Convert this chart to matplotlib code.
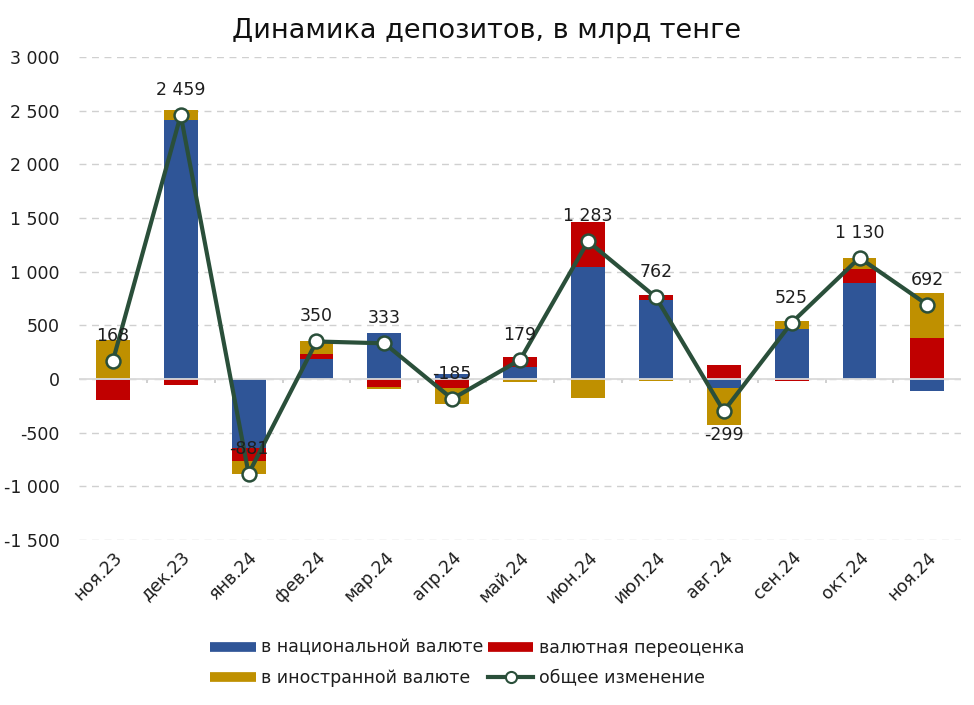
import numpy as np
import matplotlib
matplotlib.use('Agg')
import matplotlib.pyplot as plt
from matplotlib.lines import Line2D
from matplotlib.ticker import FuncFormatter

# Data (млрд тенге)
months = ['ноя.23', 'дек.23', 'янв.24', 'фев.24', 'мар.24', 'апр.24', 'май.24',
          'июн.24', 'июл.24', 'авг.24', 'сен.24', 'окт.24', 'ноя.24']
national = [-10, 2410, -640, 185, 425, 45, 110, 1040, 735, -84, 465, 895, -112]
revaluation = [-185, -51, -120, 45, -70, -85, 95, 420, 45, 130, -15, 130, 380]
foreign = [363, 100, -121, 120, -22, -145, -26, -177, -18, -345, 75, 105, 424]
total = [168, 2459, -881, 350, 333, -185, 179, 1283, 762, -299, 525, 1130, 692]

C_NAT = '#2F5597'
C_REV = '#C00000'
C_FOR = '#BF9000'
C_LINE = '#2A4F3A'
C_TEXT = '#1E1E1E'

plt.rcParams['font.family'] = ['DejaVu Sans']


def fmt_num(v):
    s = f'{abs(int(v)):,}'.replace(',', ' ')
    return ('-' if v < 0 else '') + s


fig = plt.figure(figsize=(9.74, 7.05), dpi=100)
ax = fig.add_axes([0.081, 0.234, 0.906, 0.685])

x = np.arange(len(months))
# positive and negative parts stacked separately, like Excel does
pos_base = np.zeros(len(months))
neg_base = np.zeros(len(months))
for vals, col in [(national, C_NAT), (revaluation, C_REV), (foreign, C_FOR)]:
    v = np.array(vals, dtype=float)
    pos = np.where(v > 0, v, 0)
    neg = np.where(v < 0, v, 0)
    ax.bar(x, pos, 0.5, bottom=pos_base, color=col, zorder=2)
    ax.bar(x, neg, 0.5, bottom=neg_base, color=col, zorder=2)
    pos_base += pos
    neg_base += neg

ax.plot(x, total, color=C_LINE, lw=3, marker='o', ms=10,
        markerfacecolor='white', markeredgecolor=C_LINE, markeredgewidth=1.8, zorder=4)

for xi, v in zip(x, total):
    dy = -17 if v == -299 else 18
    ax.annotate(fmt_num(v), (xi, v), xytext=(0, dy), textcoords='offset points',
                ha='center', va='center', fontsize=12.5, color=C_TEXT, zorder=5)

ax.set_xlim(-0.5, len(months) - 0.5)
ax.set_ylim(-1500, 3000)
ax.set_yticks(np.arange(-1500, 3001, 500))
ax.yaxis.set_major_formatter(FuncFormatter(lambda v, p: fmt_num(v)))
ax.grid(axis='y', color='#D0D0D0', linestyle=(0, (5, 4)), lw=1, zorder=0)
ax.axhline(0, color='#DADADA', lw=1.3, zorder=3)
ax.vlines(x[:-1] + 0.5, -40, 0, color='#C8C8C8', lw=1.2, zorder=1)
for s in ax.spines.values():
    s.set_visible(False)
ax.tick_params(axis='y', length=0, labelsize=12.5, pad=14, labelcolor=C_TEXT)
ax.tick_params(axis='x', length=0, labelsize=12.5, pad=6, labelcolor=C_TEXT)
ax.set_xticks(x)
ax.set_xticklabels(months, rotation=45, ha='right', rotation_mode='anchor')

fig.suptitle('Динамика депозитов, в млрд тенге', x=0.5, y=0.975, fontsize=19.5, color='#111111')

handles = [
    Line2D([0], [0], color=C_NAT, lw=7, solid_capstyle='butt'),
    Line2D([0], [0], color=C_FOR, lw=7, solid_capstyle='butt'),
    Line2D([0], [0], color=C_REV, lw=7, solid_capstyle='butt'),
    Line2D([0], [0], color=C_LINE, lw=3, marker='o', ms=8,
           markerfacecolor='white', markeredgecolor=C_LINE, markeredgewidth=1.5),
]
labels = ['в национальной валюте', 'в иностранной валюте',
          'валютная переоценка', 'общее изменение']
leg = fig.legend(handles, labels, ncol=2, loc='center', bbox_to_anchor=(0.49, 0.06),
                 frameon=False, fontsize=12.5, handlelength=2.6, handletextpad=0.3,
                 columnspacing=0.3, labelspacing=0.7)
for t in leg.get_texts():
    t.set_color(C_TEXT)

fig.savefig('out.png', dpi=100)
